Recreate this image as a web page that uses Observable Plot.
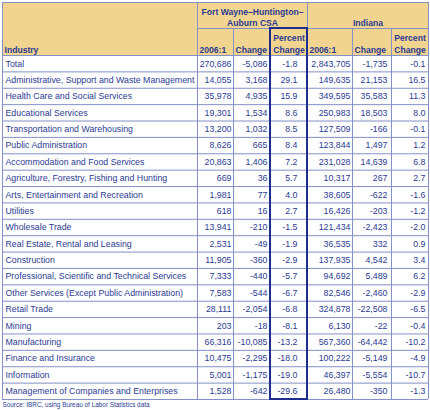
<!DOCTYPE html>
<html><head><meta charset="utf-8">
<script src="https://cdn.jsdelivr.net/npm/d3@7"></script>
<script src="https://cdn.jsdelivr.net/npm/@observablehq/plot@0.6"></script>
<style>body{margin:0;background:#fff} svg{display:block}</style>
</head><body><div id="chart"></div>
<script>
// ---- data ----
const industries = [
  "Total",
  "Administrative, Support and Waste Management",
  "Health Care and Social Services",
  "Educational Services",
  "Transportation and Warehousing",
  "Public Administration",
  "Accommodation and Food Services",
  "Agriculture, Forestry, Fishing and Hunting",
  "Arts, Entertainment and Recreation",
  "Utilities",
  "Wholesale Trade",
  "Real Estate, Rental and Leasing",
  "Construction",
  "Professional, Scientific and Technical Services",
  "Other Services (Except Public Administration)",
  "Retail Trade",
  "Mining",
  "Manufacturing",
  "Finance and Insurance",
  "Information",
  "Management of Companies and Enterprises"
];
const fwEmp    = [270686,14055,35978,19301,13200,8626,20863,669,1981,618,13941,2531,11905,7333,7583,28111,203,66316,10475,5001,1528];
const fwChange = [-5086,3168,4935,1534,1032,665,1406,36,77,16,-210,-49,-360,-440,-544,-2054,-18,-10085,-2295,-1175,-642];
const fwPct    = [-1.8,29.1,15.9,8.6,8.5,8.4,7.2,5.7,4.0,2.7,-1.5,-1.9,-2.9,-5.7,-6.7,-6.8,-8.1,-13.2,-18.0,-19.0,-29.6];
const inEmp    = [2843705,149635,349595,250983,127509,123844,231028,10317,38605,16426,121434,36535,137935,94692,82546,324878,6130,567360,100222,46397,26480];
const inChange = [-1735,21153,35583,18503,-166,1497,14639,267,-622,-203,-2423,332,4542,5489,-2460,-22508,-22,-64442,-5149,-5554,-350];
const inPct    = [-0.1,16.5,11.3,8.0,-0.1,1.2,6.8,2.7,-1.6,-1.2,-2.0,0.9,3.4,6.2,-2.9,-6.5,-0.4,-10.2,-4.9,-10.7,-1.3];
const groupLabels = ["Fort Wayne\u2013Huntington\u2013\nAuburn CSA", "Indiana"];
const subLabels = ["2006:1", "Change", "Percent\nChange"];
const industryHeader = "Industry";
const sourceNote = "Source: IBRC, using Bureau of Labor Statistics data";

// ---- layout ----
const W = 430, H = 410;
const edges = [2, 197, 233, 270, 307, 352, 391, 428];
const padR = [2, 3, 10, 2, 4, 3];
const nRows = industries.length;
const bodyTop = 55, bodyBottom = 399;
const rowPx = (bodyBottom - bodyTop) / nRows;
const py = p => (p - bodyTop) / rowPx;   // pixel -> row units
const yTop = py(2), ySplit = py(28);

const navy = "#2b3b92", line = "#8490c6", boxNavy = "#1f2e8c", tan = "#f1d48f";
const font = "Liberation Sans, Arial, Helvetica, sans-serif";
const loc = d3.formatLocale({decimal: ".", thousands: ",", grouping: [3], currency: ["$", ""], minus: "-"});
const fInt = loc.format(","), fPct = loc.format(".1f");

const columns = [
  {vals: fwEmp, fmt: fInt}, {vals: fwChange, fmt: fInt}, {vals: fwPct, fmt: fPct},
  {vals: inEmp, fmt: fInt}, {vals: inChange, fmt: fInt}, {vals: inPct, fmt: fPct}
];
const cells = columns.flatMap((c, ci) => c.vals.map((v, ri) => ({ci, ri, label: c.fmt(v)})));

const subCells = [0, 1].flatMap(g => subLabels.map((s, k) => ({col: g * 3 + k, label: s})));
const subLeft = subCells.filter(d => d.col % 3 !== 2);
const subMid = subCells.filter(d => d.col % 3 === 2);

const headStyle = {fontSize: 8.6, fontWeight: "bold", fill: navy};

const chart = Plot.plot({
  width: W, height: H, margin: 0,
  x: {domain: [0, W], range: [0, W], axis: null},
  y: {domain: [py(0), py(H)], range: [0, H], axis: null},
  style: {fontFamily: font, background: "#fff"},
  marks: [
    Plot.rect([0], {x1: edges[0], x2: edges[7], y1: yTop, y2: 0, fill: tan}),
    // horizontal grid
    Plot.ruleY(d3.range(0, nRows + 1), {x1: edges[0], x2: edges[7], stroke: line, strokeWidth: 1}),
    Plot.ruleY([yTop], {x1: edges[0], x2: edges[7], stroke: line, strokeWidth: 1}),
    Plot.ruleY([ySplit], {x1: edges[1], x2: edges[7], stroke: line, strokeWidth: 1}),
    // vertical grid
    Plot.ruleX([edges[0], edges[1], edges[4], edges[7]], {y1: yTop, y2: nRows, stroke: line, strokeWidth: 1}),
    Plot.ruleX([edges[2], edges[3], edges[5], edges[6]], {y1: ySplit, y2: nRows, stroke: line, strokeWidth: 1}),
    // highlight box
    Plot.rect([0], {x1: edges[3], x2: edges[4], y1: ySplit, y2: nRows, fill: "none", stroke: boxNavy, strokeWidth: 2}),
    // headers
    Plot.text([industryHeader], {x: edges[0] + 2, y: py(52), text: d => d, textAnchor: "start", lineAnchor: "bottom", ...headStyle}),
    Plot.text(groupLabels, {x: (d, i) => (edges[i * 3 + 1] + edges[i * 3 + 4]) / 2, y: py(25.5), text: d => d,
      textAnchor: "middle", lineAnchor: "bottom", lineHeight: 1.28, ...headStyle}),
    Plot.text(subLeft, {x: d => edges[d.col + 1] + 2, y: py(52), text: "label",
      textAnchor: "start", lineAnchor: "bottom", ...headStyle}),
    Plot.text(subMid, {x: d => (edges[d.col + 1] + edges[d.col + 2]) / 2, y: py(52), text: "label",
      textAnchor: "middle", lineAnchor: "bottom", lineHeight: 1.3, ...headStyle}),
    // body
    Plot.text(industries, {x: edges[0] + 3, y: (d, i) => i + 0.5, text: d => d, textAnchor: "start",
      lineAnchor: "middle", fontSize: 8.8, fill: navy}),
    Plot.text(cells, {x: d => edges[d.ci + 2] - padR[d.ci], y: d => d.ri + 0.5, text: "label", textAnchor: "end",
      lineAnchor: "middle", fontSize: 8.8, fill: navy}),
    // source
    Plot.text([sourceNote], {x: edges[0], y: py(404.5), text: d => d, textAnchor: "start", lineAnchor: "middle",
      fontSize: 6.4, fill: navy})
  ]
});
document.getElementById("chart").append(chart);
</script>
</body></html>
